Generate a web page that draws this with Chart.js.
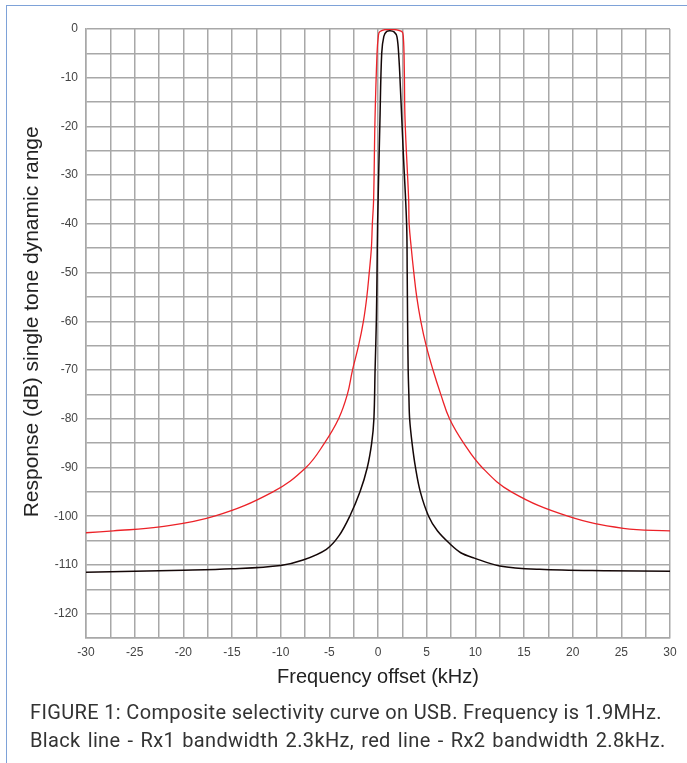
<!DOCTYPE html>
<html>
<head>
<meta charset="utf-8">
<script src="https://cdn.jsdelivr.net/npm/chart.js@4/dist/chart.umd.min.js"></script>
<style>
  html, body { margin: 0; padding: 0; background: #fff; overflow: hidden; }
  body { width: 687px; height: 763px; position: relative; }
  #frame { position: absolute; left: 6px; top: 5px; width: 720px; height: 800px;
           border-left: 1.5px solid #7ea2d8; border-top: 1.5px solid #7ea2d8; }
  #wrap { position: absolute; left: 0; top: 0; width: 687px; height: 700px; }
  #caption { position: absolute; left: 30px; top: 698px; font-family: Roboto, "Liberation Sans", sans-serif;
             font-size: 20px; letter-spacing: 0.35px; line-height: 28px; color: #333; white-space: nowrap; }
  #caption .l2 { word-spacing: 1.8px; }
</style>
</head>
<body>
<div id="frame"></div>
<div id="wrap"><canvas id="selectivityChart"></canvas></div>
<div id="caption">FIGURE 1: Composite selectivity curve on USB. Frequency is 1.9MHz.<br><span class="l2">Black line - Rx1 bandwidth 2.3kHz, red line - Rx2 bandwidth 2.8kHz.</span></div>
<script>
// --- Data ---
// Black line - Rx1 (2.3 kHz)
const rx1Freq = [-30, -20, -15, -10, -7.7, -5.3, -4.0, -2.9, -1.85, -1.1, -0.65, -0.42, -0.3, -0.17, -0.1, -0.04,
                 0.2, 0.38, 0.6, 0.9, 1.25, 1.65, 1.95, 2.15, 2.3, 2.6, 2.94, 3.0, 3.04, 3.1, 3.17, 3.25, 3.5,
                 3.85, 4.35, 5.2, 6.1, 7.4, 8.5, 9.9, 12.5, 16.6, 23.5, 30];
const rx1Resp = [-111.5, -111.1, -110.8, -110.1, -109, -106.8, -104, -100, -95, -90, -85, -80, -70, -60, -50, -40,
                 -18.7, -5, -1.5, -0.5, -0.35, -0.6, -1.6, -6, -12, -25.5, -40, -50, -60, -70, -75, -80, -85,
                 -90, -95, -100, -103, -105.7, -107.5, -108.6, -110.2, -110.9, -111.2, -111.3];

// Red line - Rx2 (2.8 kHz)
const rx2Freq = [-30, -27.2, -22.4, -16.8, -10.8, -7.4, -5.5, -4.05, -3.15, -2.62, -2.0, -1.5, -1.15, -0.9, -0.68,
                 -0.58, -0.45, -0.31, -0.1, 0.03, 0.2, 1.2, 2.43, 2.6, 2.7, 2.78, 3.15, 3.2, 3.42, 3.68, 3.98,
                 4.4, 4.95, 5.65, 6.45, 7.35, 8.8, 10.7, 13.7, 19.5, 25.2, 30];
const rx2Resp = [-103.4, -103, -102.2, -100, -95, -90, -85, -80, -75, -70, -65, -60, -55, -50, -45,
                 -40, -35, -18.7, -5, -1.6, -0.5, -0.05, -0.5, -1.6, -8, -18.7, -35, -40, -45, -50, -55,
                 -60, -65, -70, -75, -80, -85, -90, -95, -100, -102.5, -103];

// Axis ranges / ticks
const xMin = -30, xMax = 30, xStep = 2.5, xLabelEvery = 5;
const yMin = -125, yMax = 0, yStep = 5, yLabelEvery = 10;

const toPoints = (xs, ys) => xs.map((x, i) => ({ x: x, y: ys[i] }));

const gridColor = '#a8a8a8';
const tickFont = { family: '"Liberation Sans", Arial, sans-serif', size: 12 };
const titleFont = { family: '"Liberation Sans", Arial, sans-serif', size: 20 };

const ctx = document.getElementById('selectivityChart').getContext('2d');
new Chart(ctx, {
    type: 'line',
    data: {
        datasets: [
            {
                label: 'Rx2 bandwidth 2.8kHz',
                data: toPoints(rx2Freq, rx2Resp),
                borderColor: '#ec2228',
                borderWidth: 1.3,
                pointRadius: 0,
                tension: 0.4,
                fill: false
            },
            {
                label: 'Rx1 bandwidth 2.3kHz',
                data: toPoints(rx1Freq, rx1Resp),
                borderColor: '#140707',
                borderWidth: 1.5,
                pointRadius: 0,
                tension: 0.35,
                fill: false
            }
        ]
    },
    options: {
        responsive: true,
        maintainAspectRatio: false,
        animation: false,
        layout: { padding: { top: 29, right: 17, left: 0, bottom: 0 } },
        plugins: { legend: { display: false }, tooltip: { enabled: false } },
        scales: {
            x: {
                type: 'linear',
                min: xMin,
                max: xMax,
                afterFit: (scale) => { scale.height = 62; },
                grid: { color: gridColor, lineWidth: 1.5, drawTicks: false },
                border: { color: gridColor, width: 1.5 },
                ticks: {
                    stepSize: xStep,
                    autoSkip: false,
                    maxRotation: 0,
                    padding: 7,
                    color: '#444',
                    font: tickFont,
                    callback: (v) => (v % xLabelEvery === 0 ? v : '')
                },
                title: {
                    display: true,
                    text: 'Frequency offset (kHz)',
                    color: '#222',
                    font: titleFont,
                    padding: { top: 0, bottom: 11 }
                }
            },
            y: {
                min: yMin,
                max: yMax,
                afterFit: (scale) => { scale.width = 86; },
                grid: { color: gridColor, lineWidth: 1.5, drawTicks: false },
                border: { color: gridColor, width: 1.5 },
                ticks: {
                    stepSize: yStep,
                    autoSkip: false,
                    padding: 8,
                    color: '#444',
                    font: tickFont,
                    callback: (v) => (v % yLabelEvery === 0 ? v : '')
                },
                title: {
                    display: true,
                    // leading spaces nudge the rotated title upward, as in the original
                    text: '    Response (dB) single tone dynamic range',
                    color: '#222',
                    font: { family: titleFont.family, size: 21 },
                    padding: { top: 20, bottom: 0 }
                }
            }
        }
    }
});
</script>
</body>
</html>
